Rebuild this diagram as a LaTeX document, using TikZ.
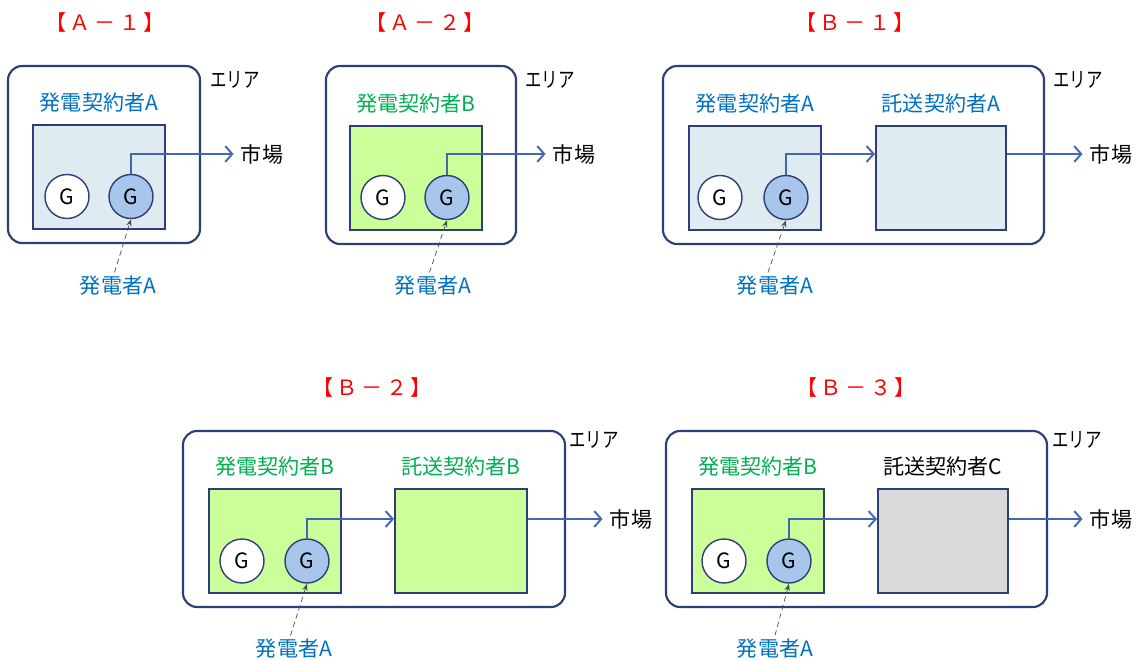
\documentclass[tikz,border=0pt]{standalone}
\usepackage{fontspec}
\setmainfont{Noto Sans CJK JP}
\usetikzlibrary{positioning,arrows.meta}
\definecolor{arealine}{RGB}{47,62,120}
\definecolor{flowline}{RGB}{68,102,176}
\definecolor{paleblue}{RGB}{222,235,240}
\definecolor{palegreen}{RGB}{204,255,153}
\definecolor{palegray}{RGB}{217,217,217}
\definecolor{genblue}{RGB}{168,198,236}
\definecolor{txtblue}{RGB}{0,112,192}
\definecolor{txtgreen}{RGB}{0,176,80}
\tikzset{
  area/.style={draw=arealine,line width=1.2pt,rounded corners=8pt},
  arealbl/.style={inner sep=0pt,transform shape,xscale=0.78},
  cbox/.style={draw=arealine,line width=1.2pt,minimum width=2.64cm,minimum height=2.08cm,inner sep=0pt},
  gen/.style={circle,draw=arealine,line width=0.8pt,minimum size=0.88cm,inner sep=0pt,fill=white},
  flow/.style={draw=flowline,line width=1.1pt,-{Straight Barb[length=4pt,width=9pt,line width=1.1pt]}},
  hint/.style={densely dashed,black!70,line width=0.4pt,-{Stealth[length=4pt,width=3pt]}},
  lbl/.style={inner sep=0pt},
  ttl/.style={red,inner sep=0pt}
}
\newcommand{\ttltext}[2]{【\,#1\,－\,#2\,】}
\begin{document}
\begin{tikzpicture}[x=0.02cm,y=-0.02cm,font=\fontsize{12pt}{14pt}\selectfont]
	\useasboundingbox (0,0) rectangle (1137,660);

	% A-1
	\node[ttl] (a1title) at (105,22) {\ttltext{Ａ}{１}};
	\draw[area] (8,66) rectangle (200,243);
	\node[arealbl] (a1area) at (235,80) {エリア};
	\node[cbox,fill=paleblue] (a1g) at (99,177) {};
	\node[lbl,txtblue,above=0.22cm of a1g] (a1gl) {発電契約者A};
	\node[gen] (a1w) at ([xshift=-0.64cm,yshift=-0.39cm]a1g) {G};
	\node[gen,fill=genblue] (a1b) at ([xshift=0.64cm,yshift=-0.39cm]a1g) {G};
	\node[lbl] (a1m) at (262,154) {市場};
	\draw[flow] (a1b.north) |- ([xshift=-4pt]a1m.west);
	\node[lbl,txtblue] (a1p) at (118,286) {発電者A};
	\draw[hint] ([xshift=-2pt,yshift=2pt]a1p.north) -- (a1b.south);

	% A-2
	\node[ttl] (a2title) at (425,22) {\ttltext{Ａ}{２}};
	\draw[area] (326,66) rectangle (516,244);
	\node[arealbl] (a2area) at (550,80) {エリア};
	\node[cbox,fill=palegreen] (a2g) at (416,178) {};
	\node[lbl,txtgreen,above=0.22cm of a2g] (a2gl) {発電契約者B};
	\node[gen] (a2w) at ([xshift=-0.66cm,yshift=-0.39cm]a2g) {G};
	\node[gen,fill=genblue] (a2b) at ([xshift=0.62cm,yshift=-0.39cm]a2g) {G};
	\node[lbl] (a2m) at (574,154) {市場};
	\draw[flow] (a2b.north) |- ([xshift=-4pt]a2m.west);
	\node[lbl,txtblue] (a2p) at (433,286) {発電者A};
	\draw[hint] ([xshift=-2pt,yshift=2pt]a2p.north) -- (a2b.south);

	% B-1
	\node[ttl] (b1title) at (855,22) {\ttltext{Ｂ}{１}};
	\draw[area] (663,66) rectangle (1044,244);
	\node[arealbl] (b1area) at (1078,80) {エリア};
	\node[cbox,fill=paleblue] (b1g) at (755,178) {};
	\node[lbl,txtblue,above=0.22cm of b1g] (b1gl) {発電契約者A};
	\node[gen] (b1w) at ([xshift=-0.7cm,yshift=-0.39cm]b1g) {G};
	\node[gen,fill=genblue] (b1b) at ([xshift=0.62cm,yshift=-0.39cm]b1g) {G};
	\node[cbox,fill=paleblue,minimum width=2.6cm] (b1t) at (941,178) {};
	\node[lbl,txtblue,above=0.22cm of b1t] (b1tl) {託送契約者A};
	\node[lbl] (b1m) at (1111,154) {市場};
	\draw[flow] (b1b.north) |- (b1t.west |- b1m.west);
	\draw[flow] (b1t.east |- b1m.west) -- ([xshift=-4pt]b1m.west);
	\node[lbl,txtblue] (b1p) at (775,286) {発電者A};
	\draw[hint] ([xshift=-4pt,yshift=2pt]b1p.north) -- (b1b.south);

	% B-2
	\node[ttl] (b2title) at (372,387) {\ttltext{Ｂ}{２}};
	\draw[area] (183,431) rectangle (565,607);
	\node[arealbl] (b2area) at (594,440) {エリア};
	\node[cbox,fill=palegreen] (b2g) at (275,541) {};
	\node[lbl,txtgreen,above=0.22cm of b2g] (b2gl) {発電契約者B};
	\node[gen] (b2w) at ([xshift=-0.66cm,yshift=-0.4cm]b2g) {G};
	\node[gen,fill=genblue] (b2b) at ([xshift=0.64cm,yshift=-0.4cm]b2g) {G};
	\node[cbox,fill=palegreen] (b2t) at (461,541) {};
	\node[lbl,txtgreen,above=0.22cm of b2t] (b2tl) {託送契約者B};
	\node[lbl] (b2m) at (631,519) {市場};
	\draw[flow] (b2b.north) |- (b2t.west |- b2m.west);
	\draw[flow] (b2t.east |- b2m.west) -- ([xshift=-4pt]b2m.west);
	\node[lbl,txtblue] (b2p) at (294,649) {発電者A};
	\draw[hint] ([xshift=-2pt,yshift=2pt]b2p.north) -- (b2b.south);

	% B-3
	\node[ttl] (b3title) at (856,387) {\ttltext{Ｂ}{３}};
	\draw[area] (666,431) rectangle (1047,607);
	\node[arealbl] (b3area) at (1077,440) {エリア};
	\node[cbox,fill=palegreen] (b3g) at (758,541) {};
	\node[lbl,txtgreen,above=0.22cm of b3g] (b3gl) {発電契約者B};
	\node[gen] (b3w) at ([xshift=-0.68cm,yshift=-0.4cm]b3g) {G};
	\node[gen,fill=genblue] (b3b) at ([xshift=0.62cm,yshift=-0.4cm]b3g) {G};
	\node[cbox,fill=palegray,minimum width=2.6cm] (b3t) at (943,541) {};
	\node[lbl,above=0.22cm of b3t] (b3tl) {託送契約者C};
	\node[lbl] (b3m) at (1111,519) {市場};
	\draw[flow] (b3b.north) |- (b3t.west |- b3m.west);
	\draw[flow] (b3t.east |- b3m.west) -- ([xshift=-4pt]b3m.west);
	\node[lbl,txtblue] (b3p) at (775,649) {発電者A};
	\draw[hint] ([xshift=0pt,yshift=2pt]b3p.north) -- (b3b.south);
\end{tikzpicture}
\end{document}
